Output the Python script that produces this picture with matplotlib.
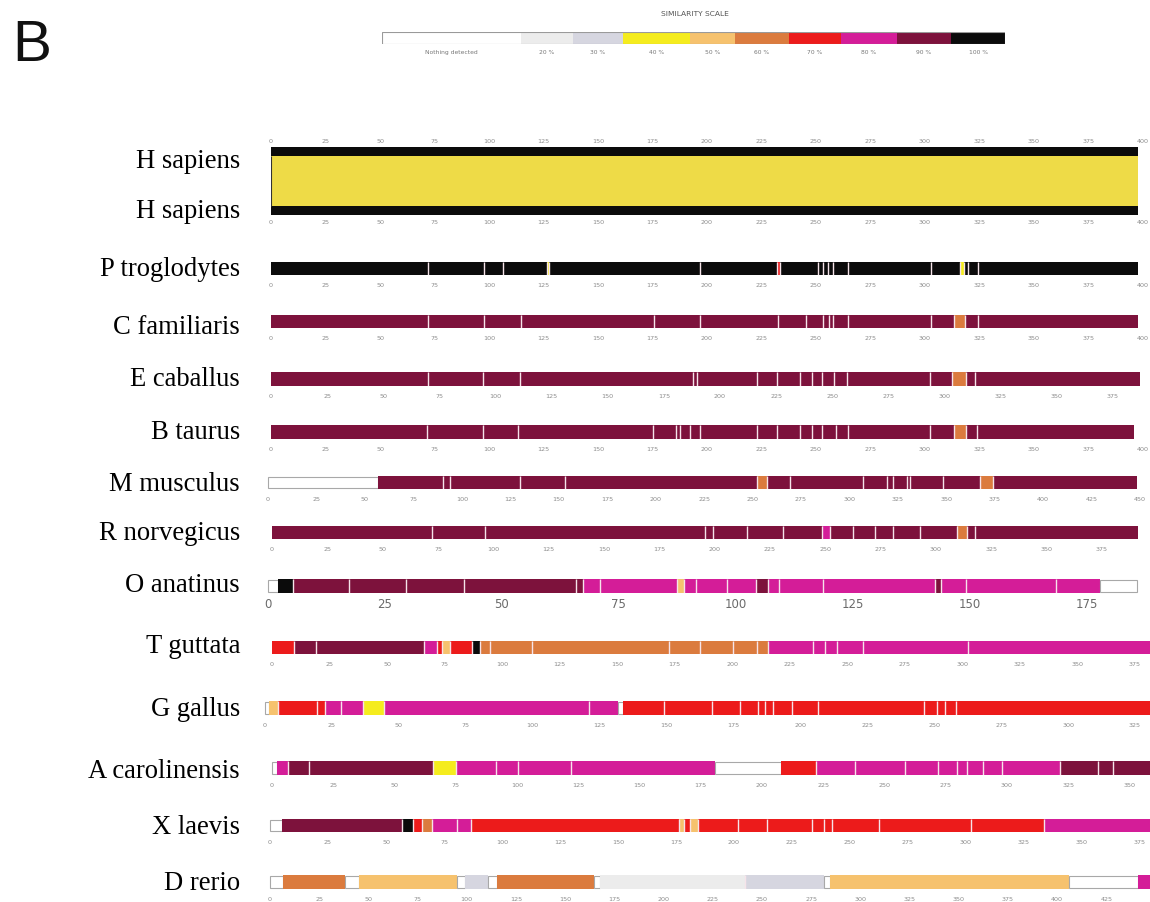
import matplotlib
matplotlib.use('Agg')
import numpy as np
import matplotlib.pyplot as plt

# ---------------- data ----------------
species = ['H sapiens', 'P troglodytes', 'C familiaris', 'E caballus', 'B taurus',
           'M musculus', 'R norvegicus', 'O anatinus', 'T guttata', 'G gallus',
           'A carolinensis', 'X laevis', 'D rerio']

# data value at the right edge of each track's axis
axis_max = [403.2, 403.2, 403.2, 391.5, 403.2, 455.1, 396.7, 188.5, 381.7, 330.6, 358.4, 379.3, 447.2]

legend_labels = ['Nothing detected', '20 %', '30 %', '40 %', '50 %', '60 %', '70 %', '80 %', '90 %', '100 %']
legend_levels = [0, 2, 3, 4, 5, 6, 7, 8, 9, 10]

hs_self_length = 397.7

ptro_breaks = [0, 72, 97.7, 106.4, 126.5, 127.5, 197, 232, 233.5, 251, 253, 255.5, 258, 264.7,
               302.8, 316, 318, 319.7, 324.3, 397.7]
ptro_levels = [10, 10, 10, 10, 4, 10, 10, 7, 10, 10, 10, 10, 10, 10, 10, 4, 10, 10, 10]

cfam_breaks = [0, 72, 97.7, 114.7, 175.7, 197, 232.6, 245.4, 253, 255.9, 258, 264.7, 302.8,
               313.3, 318.5, 324.3, 397.7]
cfam_levels = [9, 9, 9, 9, 9, 9, 9, 9, 9, 9, 9, 9, 9, 6, 9, 9]

ecab_breaks = [0, 69.9, 94.4, 110.9, 188, 189.8, 216.5, 225.4, 235.6, 241, 245.4, 250.8, 256.6,
               293.5, 303.3, 309.6, 313.6, 387]
ecab_levels = [9, 9, 9, 9, 9, 9, 9, 9, 9, 9, 9, 9, 9, 9, 6, 9, 9]

btau_breaks = [0, 71.6, 97.2, 113.3, 175.2, 185.8, 187.6, 192.2, 196.8, 222.9, 232.1, 242.7,
               248.2, 252.8, 259.2, 264.7, 302.3, 313.3, 318.8, 323.9, 395.9]
btau_levels = [9, 9, 9, 9, 9, 9, 9, 9, 9, 9, 9, 9, 9, 9, 9, 9, 9, 6, 9, 9]

mmus_breaks = [0, 56.8, 90.3, 93.9, 130, 153.2, 252.3, 257.5, 269.3, 307, 319.4, 322.5, 329.7,
               331.3, 348.3, 367.4, 374, 448.4]
mmus_levels = [0, 9, 9, 9, 9, 9, 6, 9, 9, 9, 9, 9, 9, 9, 9, 6, 9]

rnor_breaks = [0, 72.3, 96.2, 195.7, 199.3, 214.6, 230.9, 248.5, 252.1, 262.5, 272.5, 280.6,
               292.8, 309.5, 314, 317.7, 391.3]
rnor_levels = [9, 9, 9, 9, 9, 9, 9, 8, 9, 9, 9, 9, 9, 6, 9, 9]

oana_breaks = [0, 2.1, 5.3, 17.3, 29.5, 41.9, 65.8, 67.3, 70.9, 87.4, 89, 91.5, 98, 104.4,
               106.9, 109.2, 118.7, 142.5, 143.8, 149.1, 168.5, 177.8, 185.7]
oana_levels = [0, 10, 9, 9, 9, 9, 9, 8, 8, 5, 8, 8, 8, 9, 8, 8, 8, 9, 8, 8, 8, 0]

tgut_breaks = [0, 9.5, 19, 66, 71.7, 73.9, 77.4, 87, 90.4, 94.8, 113, 172.6, 186, 200.4, 210.9,
               215.7, 235.2, 240.4, 245.7, 257, 302.4, 381.7]
tgut_levels = [7, 9, 9, 8, 7, 5, 7, 10, 6, 6, 6, 6, 6, 6, 6, 8, 8, 8, 8, 8, 8]

ggal_breaks = [0, 1.5, 5, 19.6, 22.4, 28.5, 36.6, 44.5, 121, 131.7, 133.6, 148.9, 167, 177.4,
               184, 186.8, 189.8, 197, 206.6, 246, 251, 254, 258.3, 330.6]
ggal_levels = [0, 5, 7, 7, 8, 8, 4, 8, 8, 0, 7, 7, 7, 7, 7, 7, 7, 7, 7, 7, 7, 7, 7]

acar_breaks = [0, 2.2, 6.5, 15, 65.8, 75, 91.6, 100.6, 122.2, 180.8, 207.8, 222.2, 237.9, 258.4,
               271.8, 279.6, 283.7, 290.2, 298, 321.8, 337.3, 343.5, 358.4]
acar_levels = [0, 8, 9, 9, 4, 8, 8, 8, 8, 0, 7, 8, 8, 8, 8, 8, 8, 8, 8, 9, 9, 9]

xlae_breaks = [0, 5.2, 56.9, 61.6, 65.5, 69.8, 80.6, 86.8, 176.3, 178.5, 181, 184.5, 201.7,
               214.2, 233.4, 238.8, 242.4, 262.3, 302, 333.4, 379.3]
xlae_levels = [0, 9, 10, 7, 6, 8, 8, 7, 5, 7, 5, 7, 7, 7, 7, 7, 7, 7, 7, 8]

drer_breaks = [0, 6.5, 38.1, 45.2, 95, 99, 111, 115.3, 164.6, 167.5, 241.4, 281.5, 284.6, 406,
               441, 447.2]
drer_levels = [0, 6, 0, 5, 0, 3, 0, 6, 0, 2, 3, 0, 5, 0, 8]

track_data = [None,
              (ptro_breaks, ptro_levels), (cfam_breaks, cfam_levels), (ecab_breaks, ecab_levels),
              (btau_breaks, btau_levels), (mmus_breaks, mmus_levels), (rnor_breaks, rnor_levels),
              (oana_breaks, oana_levels), (tgut_breaks, tgut_levels), (ggal_breaks, ggal_levels),
              (acar_breaks, acar_levels), (xlae_breaks, xlae_levels), (drer_breaks, drer_levels)]

# ---------------- style / layout ----------------
level_colors = {0: '#ffffff', 2: '#ececec', 3: '#d6d6e0', 4: '#f5ec1e', 5: '#f6c26e',
                6: '#db7b3e', 7: '#ec1b1b', 8: '#d41d98', 9: '#7d123c', 10: '#0b0b0b'}
SEP = '#f6e4ea'

W, H = 1150, 903
fig = plt.figure(figsize=(W / 100, H / 100), dpi=100)

# (left_px, top_px, bottom_px, label_y_px)
layout = [(271, 148, 216, None), (271, 263, 276, 269), (271, 316, 329, 327), (271, 373, 387, 380),
          (271, 426, 440, 433), (268, 477, 490, 485), (272, 527, 540, 533), (268, 580, 594, 586),
          (272, 642, 655, 647), (265, 702, 716, 710), (272, 762, 776, 771), (270, 820, 833, 828),
          (270, 876, 890, 884)]
RIGHT = 1150
NAME_FS = 19.2


def px_axes(left, top, bottom, right=RIGHT):
    return fig.add_axes([left / W, 1 - bottom / H, (right - left) / W, (bottom - top) / H])


def style_axis(ax, xmax, small=True, top=False):
    ax.set_xlim(0, xmax)
    ax.set_ylim(0, 1)
    ticks = np.arange(0, xmax + 0.01, 25)
    ax.set_xticks(ticks)
    ax.set_xticklabels([str(int(t)) for t in ticks])
    ax.set_yticks([])
    for s in ax.spines.values():
        s.set_visible(False)
    if small:
        ax.tick_params(axis='x', length=0, labelsize=4.6, labelcolor='#8c8c8c', pad=5.2,
                       labeltop=top, labelbottom=True)
    else:
        ax.tick_params(axis='x', length=0, labelsize=8.5, labelcolor='#6a6a6a', pad=3.0)
    ax.patch.set_alpha(0)


def draw_track(ax, breaks, levels):
    for s, e, lv in zip(breaks[:-1], breaks[1:], levels):
        if lv == 0:
            ax.barh(0.5, e - s, left=s, height=0.92, color='white', edgecolor='#a8a8a8',
                    linewidth=0.8, clip_on=False)
        else:
            ax.barh(0.5, e - s, left=s, height=1, color=level_colors[lv], linewidth=0)
    for i in range(1, len(breaks) - 1):
        if levels[i - 1] != 0 and levels[i] != 0:
            ax.vlines(breaks[i], 0, 1, color=SEP, linewidth=1.0)


# ---- H sapiens self track ----
l, t, b, _ = layout[0]
ax = px_axes(l, t, b)
style_axis(ax, axis_max[0], top=True)
ax.barh(0.934, hs_self_length, left=0, height=0.132, color='#0b0b0b', linewidth=0)
ax.barh(0.5, hs_self_length, left=0, height=0.736, color='#eedb47', linewidth=0)
ax.barh(0.066, hs_self_length, left=0, height=0.132, color='#0b0b0b', linewidth=0)
ax.vlines(0, 0.13, 0.87, color='#333333', linewidth=0.8)
ax.tick_params(axis='x', pad=2.6)
fig.text(240 / W, 1 - 162 / H, species[0], ha='right', va='center',
         family='Liberation Serif', fontsize=NAME_FS)
fig.text(240 / W, 1 - 212 / H, species[0], ha='right', va='center',
         family='Liberation Serif', fontsize=NAME_FS)

# ---- other tracks ----
for i in range(1, len(species)):
    l, t, b, ly = layout[i]
    ax = px_axes(l, t, b)
    style_axis(ax, axis_max[i], small=(species[i] != 'O anatinus'))
    br, lv = track_data[i]
    draw_track(ax, br, lv)
    fig.text(240 / W, 1 - ly / H, species[i], ha='right', va='center',
             family='Liberation Serif', fontsize=NAME_FS)

# ---- similarity scale legend ----
leg_widths = [139, 52, 50, 67, 45, 54, 52, 56, 54, 54]
lax = px_axes(382, 33, 45, right=1005)
edges = np.concatenate([[0], np.cumsum(leg_widths)])
lax.set_xlim(0, edges[-1])
lax.set_ylim(0, 1)
lax.axis('off')
for k, (lab, lv) in enumerate(zip(legend_labels, legend_levels)):
    lax.barh(0.5, leg_widths[k], left=edges[k], height=1, color=level_colors[lv], linewidth=0)
    lax.text((edges[k] + edges[k + 1]) / 2, -0.4, lab, ha='center', va='top',
             fontsize=4.3, color='#777777')
lax.add_patch(plt.Rectangle((0, 0), edges[-1], 1, fill=False, edgecolor='#9a9a9a', linewidth=0.8))
fig.text(695 / W, 1 - 14 / H, 'SIMILARITY SCALE', ha='center', va='center',
         fontsize=5.4, color='#555555')

fig.text(12 / W, 1 - 46 / H, 'B', ha='left', va='center', fontsize=42,
         family='Liberation Sans', color='#111111')

fig.savefig('out.png', dpi=100)
